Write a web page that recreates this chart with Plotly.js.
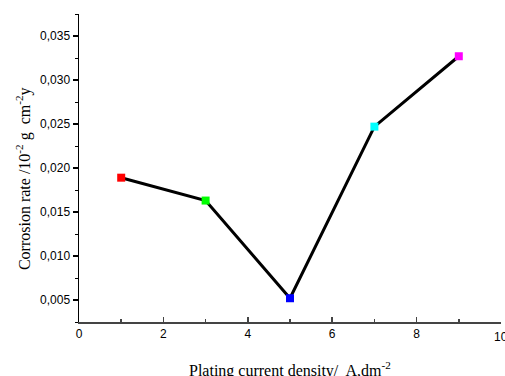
<!DOCTYPE html>
<html>
<head>
<meta charset="utf-8">
<script src="https://cdn.plot.ly/plotly-3.0.1.min.js"></script>
<style>html,body{margin:0;padding:0;background:#fff;}#chart{width:505px;height:376px;}</style>
</head>
<body>
<div id="chart"></div>
<script>
const currentDensity = [1, 3, 5, 7, 9];
const corrosionRate = [0.0189, 0.0163, 0.0052, 0.0247, 0.0327];
const markerColors = ['#ff0000', '#00ff00', '#0000ff', '#00ffff', '#ff00ff'];
const xTitle = 'Plating current density/  A,dm<sup>-2</sup>';
const yTitle = 'Corrosion rate /10<sup>-2</sup> g  cm<sup>-2</sup>y';
const lastXTick = '10';

const trace = {
  x: currentDensity,
  y: corrosionRate,
  mode: 'lines+markers',
  line: {color: '#000000', width: 3},
  marker: {symbol: 'square', size: 8, color: markerColors, line: {width: 0}},
  showlegend: false
};

const tickFont = {family: 'Liberation Sans, Arial, sans-serif', size: 12, color: '#000'};
const titleFont = {family: 'Liberation Serif, Times New Roman, serif', size: 16, color: '#000'};

const layout = {
  width: 505, height: 376,
  margin: {l: 79, r: 4, t: 14, b: 54},
  paper_bgcolor: '#ffffff', plot_bgcolor: '#ffffff',
  separators: ',.',
  font: tickFont,
  xaxis: {
    range: [0, 10], dtick: 2, tick0: 0,
    showgrid: false, zeroline: false,
    showline: true, linecolor: '#444', linewidth: 1.5,
    ticks: 'inside', ticklen: 5, tickcolor: '#444', tickwidth: 1.5,
    minor: {dtick: 1, tick0: 0, ticks: 'inside', ticklen: 3, tickcolor: '#444', tickwidth: 1.5},
    tickfont: tickFont
  },
  yaxis: {
    range: [0.0025, 0.0375], dtick: 0.005, tick0: 0,
    tickformat: '.3f',
    showgrid: false, zeroline: false,
    showline: true, linecolor: '#000', linewidth: 1.5,
    ticks: 'outside', ticklen: 5, tickcolor: '#000', tickwidth: 1.5,
    minor: {dtick: 0.0025, tick0: 0, ticks: 'outside', ticklen: 3, tickcolor: '#000', tickwidth: 1},
    tickfont: tickFont
  },
  annotations: [
    {text: lastXTick, xref: 'x', yref: 'paper', x: 10, y: 0, yshift: -15, xanchor: 'center', yanchor: 'middle',
     showarrow: false, font: tickFont},
    {text: xTitle, xref: 'paper', yref: 'paper', x: 0.5, y: 0, yshift: -47, xanchor: 'center', yanchor: 'middle',
     showarrow: false, font: titleFont},
    {text: yTitle, xref: 'paper', yref: 'paper', x: 0, xshift: -56, y: 0.464, xanchor: 'center', yanchor: 'middle',
     textangle: -90, showarrow: false, font: titleFont}
  ]
};

Plotly.newPlot('chart', [trace], layout, {displayModeBar: false, staticPlot: true});
</script>
</body>
</html>
